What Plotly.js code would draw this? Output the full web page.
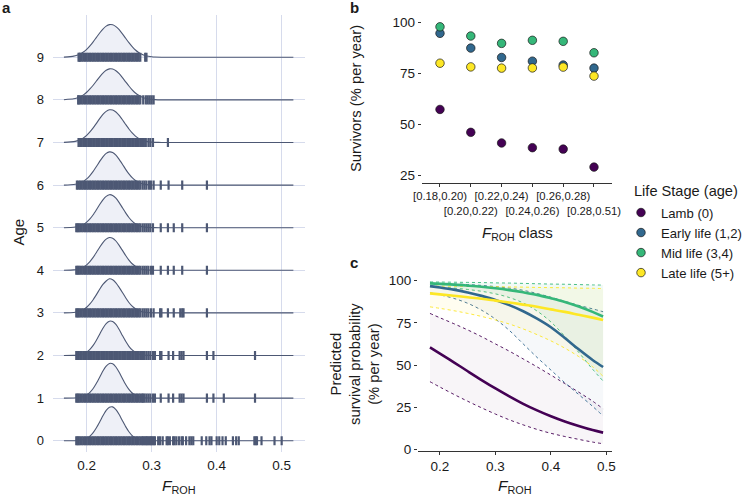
<!DOCTYPE html>
<html>
<head>
<meta charset="utf-8">
<script src="https://cdn.plot.ly/plotly-3.0.1.min.js"></script>
<style>html,body{margin:0;padding:0;background:#fff;}#chart{width:742px;height:498px;}</style>
</head>
<body>
<div id="chart"></div>
<script>
// ---------- Panel a: ridgeline of F_ROH by age ----------
const ages = [0, 1, 2, 3, 4, 5, 6, 7, 8, 9];
const frohTicks = [0.2, 0.3, 0.4, 0.5];
const frohTickText = ['0.2', '0.3', '0.4', '0.5'];
const ridgeX = [0.165, 0.180, 0.185, 0.190, 0.195, 0.200, 0.205, 0.210, 0.215, 0.220, 0.225, 0.230, 0.235, 0.240, 0.245, 0.250, 0.255, 0.260, 0.265, 0.270, 0.275, 0.280, 0.285, 0.290, 0.295, 0.300, 0.305, 0.315, 0.518];
const densAge0 = [0, 0, 0.005, 0.012, 0.027, 0.057, 0.108, 0.189, 0.304, 0.44, 0.584, 0.712, 0.787, 0.794, 0.73, 0.615, 0.47, 0.33, 0.21, 0.12, 0.065, 0.031, 0.014, 0.006, 0.002, 0.001, 0, 0, 0];
const densAge1 = [0, 0.002, 0.007, 0.016, 0.036, 0.073, 0.135, 0.225, 0.348, 0.49, 0.636, 0.75, 0.814, 0.807, 0.73, 0.607, 0.46, 0.32, 0.205, 0.12, 0.064, 0.031, 0.014, 0.006, 0.002, 0, 0, 0, 0];
const densAge2 = [0, 0.003, 0.009, 0.02, 0.042, 0.082, 0.146, 0.238, 0.36, 0.5, 0.64, 0.75, 0.806, 0.8, 0.73, 0.612, 0.47, 0.333, 0.216, 0.13, 0.071, 0.036, 0.017, 0.007, 0.003, 0.001, 0, 0, 0];
const densAge3 = [0, 0.010, 0.021, 0.042, 0.077, 0.132, 0.21, 0.31, 0.43, 0.555, 0.668, 0.75, 0.80, 0.78, 0.706, 0.60, 0.48, 0.356, 0.245, 0.158, 0.096, 0.054, 0.028, 0.014, 0.006, 0.003, 0.001, 0, 0];
const densAge4 = [0, 0.010, 0.020, 0.041, 0.075, 0.129, 0.205, 0.302, 0.419, 0.541, 0.651, 0.731, 0.77, 0.754, 0.688, 0.585, 0.468, 0.347, 0.239, 0.154, 0.094, 0.053, 0.027, 0.014, 0.006, 0.003, 0.001, 0, 0];
const densAge5 = [0, 0.010, 0.021, 0.041, 0.076, 0.13, 0.206, 0.304, 0.422, 0.545, 0.655, 0.736, 0.775, 0.758, 0.692, 0.588, 0.47, 0.349, 0.24, 0.155, 0.094, 0.053, 0.027, 0.014, 0.006, 0.003, 0.001, 0, 0];
const densAge6 = [0, 0.014, 0.027, 0.05, 0.088, 0.145, 0.223, 0.321, 0.436, 0.556, 0.665, 0.745, 0.78, 0.766, 0.704, 0.605, 0.49, 0.37, 0.263, 0.174, 0.109, 0.064, 0.035, 0.018, 0.009, 0.004, 0.002, 0, 0];
const densAge7 = [0.002, 0.02, 0.038, 0.066, 0.108, 0.168, 0.248, 0.342, 0.45, 0.56, 0.66, 0.73, 0.767, 0.762, 0.716, 0.636, 0.533, 0.424, 0.318, 0.226, 0.151, 0.095, 0.057, 0.032, 0.017, 0.008, 0.004, 0.001, 0];
const densAge8 = [0.004, 0.026, 0.045, 0.074, 0.118, 0.179, 0.257, 0.344, 0.444, 0.542, 0.631, 0.695, 0.729, 0.725, 0.684, 0.615, 0.523, 0.424, 0.326, 0.238, 0.163, 0.108, 0.068, 0.04, 0.023, 0.012, 0.006, 0.001, 0];
const densAge9 = [0.004, 0.027, 0.047, 0.078, 0.124, 0.188, 0.27, 0.362, 0.467, 0.571, 0.664, 0.732, 0.767, 0.763, 0.72, 0.647, 0.55, 0.446, 0.343, 0.25, 0.172, 0.114, 0.072, 0.042, 0.024, 0.013, 0.006, 0.001, 0];
const densities = [densAge0, densAge1, densAge2, densAge3, densAge4, densAge5, densAge6, densAge7, densAge8, densAge9];

// rug: observations in the dense central band (shared look) + per-age tail observations
const rugDenseBand = [0.1875, 0.19, 0.1925, 0.195, 0.1975, 0.2, 0.2025, 0.205, 0.2075, 0.21, 0.2125, 0.215, 0.2175, 0.22, 0.2225, 0.225, 0.2275, 0.23, 0.2325, 0.235, 0.2375, 0.24, 0.2425, 0.245, 0.2475, 0.25, 0.2525, 0.255, 0.2575, 0.26, 0.2625, 0.265, 0.2675, 0.27, 0.2725, 0.275, 0.2775, 0.28, 0.2825];
const rugAge0 = [0.184, 0.186, 0.285, 0.287, 0.289, 0.291, 0.293, 0.295, 0.297, 0.299, 0.301, 0.303, 0.305, 0.310, 0.313, 0.317, 0.323, 0.325, 0.328, 0.333, 0.335, 0.338, 0.342, 0.346, 0.348, 0.353, 0.358, 0.361, 0.364, 0.377, 0.384, 0.389, 0.392, 0.400, 0.404, 0.409, 0.414, 0.425, 0.430, 0.434, 0.458, 0.460, 0.462, 0.469, 0.489, 0.500];
const rugAge1 = [0.184, 0.186, 0.285, 0.287, 0.289, 0.292, 0.295, 0.298, 0.302, 0.305, 0.314, 0.326, 0.333, 0.343, 0.346, 0.349, 0.385, 0.395, 0.411, 0.459];
const rugAge2 = [0.184, 0.186, 0.285, 0.287, 0.289, 0.292, 0.295, 0.298, 0.302, 0.305, 0.313, 0.315, 0.326, 0.333, 0.343, 0.346, 0.349, 0.385, 0.395, 0.459];
const rugAge3 = [0.184, 0.186, 0.286, 0.289, 0.292, 0.295, 0.299, 0.303, 0.313, 0.315, 0.325, 0.334, 0.344, 0.347, 0.349, 0.385];
const rugAge4 = [0.184, 0.186, 0.286, 0.289, 0.292, 0.295, 0.299, 0.302, 0.314, 0.325, 0.334, 0.347, 0.385];
const rugAge5 = [0.184, 0.186, 0.286, 0.289, 0.292, 0.295, 0.298, 0.302, 0.314, 0.325, 0.334, 0.347, 0.385];
const rugAge6 = [0.185, 0.286, 0.289, 0.292, 0.296, 0.299, 0.303, 0.314, 0.326, 0.347, 0.385];
const rugAge7 = [0.285, 0.288, 0.291, 0.295, 0.298, 0.302, 0.325];
const rugAge8 = [0.187, 0.287, 0.291, 0.294, 0.297, 0.300, 0.303];
const rugAge9 = [0.189, 0.290, 0.292];
const rugTails = [rugAge0, rugAge1, rugAge2, rugAge3, rugAge4, rugAge5, rugAge6, rugAge7, rugAge8, rugAge9];

// ---------- Panel b: observed survivors by F_ROH class ----------
const classLabels = ['[0.18,0.20)', '[0.20,0.22)', '[0.22,0.24)', '[0.24,0.26)', '[0.26,0.28)', '[0.28,0.51)'];
const lambSurv  = [57.4, 46.2, 41.0, 38.7, 38.0, 29.2];
const earlySurv = [94.6, 87.4, 82.8, 81.0, 79.1, 77.6];
const midSurv   = [97.8, 93.3, 89.7, 91.2, 90.7, 85.1];
const lateSurv  = [80.0, 78.2, 77.6, 77.7, 78.1, 73.7];
const survTicks = [25, 50, 75, 100];

// ---------- Panel c: predicted survival ----------
const predX = [0.182, 0.2, 0.225, 0.25, 0.275, 0.3, 0.325, 0.35, 0.375, 0.4, 0.425, 0.45, 0.475, 0.494];
const lambFit    = [60.5, 56.8, 51.6, 46.3, 41.1, 36.1, 31.4, 27.0, 23.1, 19.6, 16.5, 13.8, 11.4, 9.9];
const lambUpper  = [80.6, 78.0, 74.5, 70.8, 66.8, 62.5, 58.2, 53.6, 48.9, 44.0, 39.0, 33.9, 28.6, 24.0];
const lambLower  = [40.1, 36.9, 32.6, 28.5, 24.6, 20.9, 17.5, 14.5, 11.8, 9.5, 7.6, 5.9, 4.3, 3.3];
const earlyFit   = [96.8, 96.0, 94.7, 93.0, 91.0, 88.6, 85.5, 81.9, 77.5, 72.4, 66.0, 59.3, 53.0, 48.8];
const earlyUpper = [98.6, 98.4, 98.1, 97.7, 97.2, 96.5, 95.6, 94.3, 92.4, 90.2, 87.8, 85.4, 83.3, 81.6];
const earlyLower = [92.8, 91.6, 89.5, 86.6, 82.5, 77.2, 70.5, 62.5, 54.5, 47.0, 39.5, 32.5, 25.5, 19.8];
const midFit     = [98.4, 98.1, 97.7, 97.1, 96.4, 95.5, 94.4, 93.1, 91.6, 89.6, 87.4, 84.7, 81.5, 78.8];
const midUpper   = [99.3, 99.2, 99.1, 99.0, 98.9, 98.7, 98.6, 98.4, 98.2, 98.0, 97.9, 97.7, 97.5, 97.4];
const midLower   = [96.5, 96.2, 95.6, 94.8, 93.7, 92.2, 90.0, 86.8, 82.0, 75.5, 67.0, 57.5, 47.5, 40.5];
const lateFit    = [92.5, 91.9, 91.1, 90.2, 89.3, 88.2, 87.1, 85.8, 84.5, 83.0, 81.5, 79.8, 78.1, 76.7];
const lateUpper  = [96.8, 96.8, 96.7, 96.6, 96.5, 96.4, 96.3, 96.2, 96.0, 95.9, 95.8, 95.6, 95.5, 95.3];
const lateLower  = [84.5, 83.6, 82.2, 80.6, 78.8, 76.7, 74.3, 71.4, 68.0, 64.3, 60.0, 55.0, 49.0, 43.3];
const probTicks = [0, 25, 50, 75, 100];

const stageNames = ['Lamb (0)', 'Early life (1,2)', 'Mid life (3,4)', 'Late life (5+)'];
const stageColors = ['#440154', '#31688E', '#35B779', '#FDE725'];
const stageFills = ['rgba(68,1,84,0.04)', 'rgba(49,104,142,0.045)', 'rgba(53,183,121,0.07)', 'rgba(253,231,37,0.07)'];

// ---------- Build traces ----------
const W = 742, H = 498;
const px = v => v / W;
const py = v => 1 - v / H;
const FONT = 'Liberation Sans, Arial, Helvetica, sans-serif';
const ink = '#4d5874';
const traces = [];

for (let k = ages.length - 1; k >= 0; k--) {
  const age = ages[k];
  traces.push({
    x: [ridgeX[0], ridgeX[ridgeX.length - 1]], y: [age, age],
    mode: 'lines', line: {width: 0, color: 'rgba(0,0,0,0)'},
    xaxis: 'x', yaxis: 'y', showlegend: false, hoverinfo: 'skip'
  });
  traces.push({
    x: ridgeX, y: densities[k].map(d => age + d),
    mode: 'lines', fill: 'tonexty', fillcolor: 'rgba(226,230,241,0.6)',
    line: {color: ink, width: 1.1, shape: 'spline', smoothing: 0.5},
    xaxis: 'x', yaxis: 'y', showlegend: false, hoverinfo: 'skip'
  });
  const rugVals = rugDenseBand.concat(rugTails[k]);
  traces.push({
    x: rugVals, y: rugVals.map(() => age),
    mode: 'markers',
    marker: {symbol: 'line-ns', size: 6.5, color: ink, line: {width: 2.2, color: ink}},
    xaxis: 'x', yaxis: 'y', showlegend: false, hoverinfo: 'skip'
  });
}

// panel b
const survSeries = [lambSurv, earlySurv, midSurv, lateSurv];
survSeries.forEach((s, i) => {
  traces.push({
    x: classLabels, y: s, mode: 'markers', name: stageNames[i],
    marker: {size: 8.5, color: stageColors[i], line: {width: 0.7, color: '#1a1a1a'}},
    xaxis: 'x2', yaxis: 'y2', showlegend: true
  });
});

// panel c
const uppers = [lambUpper, earlyUpper, midUpper, lateUpper];
const lowers = [lambLower, earlyLower, midLower, lateLower];
const fits = [lambFit, earlyFit, midFit, lateFit];
for (let i = 0; i < 4; i++) {
  traces.push({
    x: predX, y: uppers[i], mode: 'lines',
    line: {color: stageColors[i], width: 0.9, dash: 'dot', shape: 'spline'},
    xaxis: 'x3', yaxis: 'y3', showlegend: false, hoverinfo: 'skip'
  });
  traces.push({
    x: predX, y: lowers[i], mode: 'lines', fill: 'tonexty', fillcolor: stageFills[i],
    line: {color: stageColors[i], width: 0.9, dash: 'dot', shape: 'spline'},
    xaxis: 'x3', yaxis: 'y3', showlegend: false, hoverinfo: 'skip'
  });
}
for (let i = 0; i < 4; i++) {
  traces.push({
    x: predX, y: fits[i], mode: 'lines',
    line: {color: stageColors[i], width: 2.6, shape: 'spline'},
    xaxis: 'x3', yaxis: 'y3', showlegend: false, hoverinfo: 'skip'
  });
}

const gridCol = '#d6dbec';
const axisCol = '#333333';
const layout = {
  width: W, height: H,
  margin: {l: 0, r: 0, t: 0, b: 0, pad: 0, autoexpand: false},
  paper_bgcolor: '#ffffff', plot_bgcolor: 'rgba(0,0,0,0)',
  font: {family: FONT, color: '#1a1a1a', size: 13},
  showlegend: true,
  legend: {
    x: px(621), y: py(197.5), xanchor: 'left', yanchor: 'top',
    font: {size: 13.1, family: FONT, color: '#1a1a1a'},
    bgcolor: 'rgba(0,0,0,0)', borderwidth: 0, tracegroupgap: 0, traceorder: 'normal'
  },
  xaxis: {
    domain: [px(53), px(305)], range: [0.1482, 0.5359], anchor: 'y',
    tickmode: 'array', tickvals: frohTicks, ticktext: frohTickText,
    showgrid: true, gridcolor: gridCol, gridwidth: 1, zeroline: false, showline: false,
    ticks: '', tickfont: {size: 13.5}, ticklabelstandoff: 4
  },
  yaxis: {
    domain: [py(451.7), py(15)], range: [-0.258, 9.993], anchor: 'x',
    tickmode: 'array', tickvals: ages, ticktext: ages.map(String),
    showgrid: true, gridcolor: gridCol, gridwidth: 1, zeroline: false, showline: false,
    ticks: '', tickfont: {size: 13}, ticklabelstandoff: 8
  },
  xaxis2: {
    domain: [px(421.7), px(611.7)], range: [-0.594, 5.575], anchor: 'y2', type: 'category',
    tickmode: 'array', tickvals: classLabels, tickangle: 0,
    ticktext: classLabels.map((t, i) => i % 2 === 1 ? '<br>' + t : t),
    showgrid: false, zeroline: false, showline: true, linecolor: axisCol, linewidth: 1,
    ticks: 'outside', ticklen: 3, tickcolor: axisCol, tickwidth: 1, tickfont: {size: 11.3}
  },
  yaxis2: {
    domain: [py(182.7), py(12)], range: [21.58, 105.04], anchor: 'x2',
    tickmode: 'array', tickvals: survTicks, ticktext: survTicks.map(String),
    showgrid: false, zeroline: false, showline: false,
    ticks: 'outside', ticklen: 3, tickcolor: axisCol, tickwidth: 1, tickfont: {size: 13.5}
  },
  xaxis3: {
    domain: [px(418), px(611.7)], range: [0.1604, 0.5095], anchor: 'y3',
    tickmode: 'array', tickvals: frohTicks, ticktext: frohTickText,
    showgrid: false, zeroline: false, showline: true, linecolor: axisCol, linewidth: 1,
    ticks: 'outside', ticklen: 3, tickcolor: axisCol, tickwidth: 1, tickfont: {size: 13.5}
  },
  yaxis3: {
    domain: [py(450.5), py(272)], range: [-0.7, 105.16], anchor: 'x3',
    tickmode: 'array', tickvals: probTicks, ticktext: probTicks.map(String),
    showgrid: false, zeroline: false, showline: false,
    ticks: 'outside', ticklen: 3, tickcolor: axisCol, tickwidth: 1, tickfont: {size: 13.5}
  },
  annotations: [
    {text: '<b>a</b>', x: px(0), y: py(8), xref: 'paper', yref: 'paper', xanchor: 'left', yanchor: 'middle', showarrow: false, font: {size: 15}},
    {text: '<b>b</b>', x: px(348), y: py(8), xref: 'paper', yref: 'paper', xanchor: 'left', yanchor: 'middle', showarrow: false, font: {size: 15}},
    {text: '<b>c</b>', x: px(348), y: py(262), xref: 'paper', yref: 'paper', xanchor: 'left', yanchor: 'middle', showarrow: false, font: {size: 15}},
    {text: 'Age', x: px(17.5), y: py(232), xref: 'paper', yref: 'paper', textangle: -90, xanchor: 'center', yanchor: 'middle', showarrow: false, font: {size: 15}},
    {text: '<i>F</i><sub>ROH</sub>', x: px(179), y: py(497.5), xref: 'paper', yref: 'paper', xanchor: 'center', yanchor: 'bottom', showarrow: false, font: {size: 15.5}},
    {text: 'Survivors (% per year)', x: px(355.5), y: py(98.5), xref: 'paper', yref: 'paper', textangle: -90, xanchor: 'center', yanchor: 'middle', showarrow: false, font: {size: 14.8}},
    {text: '<i>F</i><sub>ROH</sub> class', x: px(517), y: py(233), xref: 'paper', yref: 'paper', xanchor: 'center', yanchor: 'middle', showarrow: false, font: {size: 15}},
    {text: 'Predicted<br>survival probability<br>(% per year)', x: px(355), y: py(364), xref: 'paper', yref: 'paper', textangle: -90, xanchor: 'center', yanchor: 'middle', showarrow: false, font: {size: 14.8}},
    {text: '<i>F</i><sub>ROH</sub>', x: px(515), y: py(497.5), xref: 'paper', yref: 'paper', xanchor: 'center', yanchor: 'bottom', showarrow: false, font: {size: 15.5}},
    {text: 'Life Stage (age)', x: px(632), y: py(191), xref: 'paper', yref: 'paper', xanchor: 'left', yanchor: 'middle', showarrow: false, font: {size: 14.6}}
  ]
};

Plotly.newPlot('chart', traces, layout, {displayModeBar: false, staticPlot: true});
</script>
</body>
</html>
